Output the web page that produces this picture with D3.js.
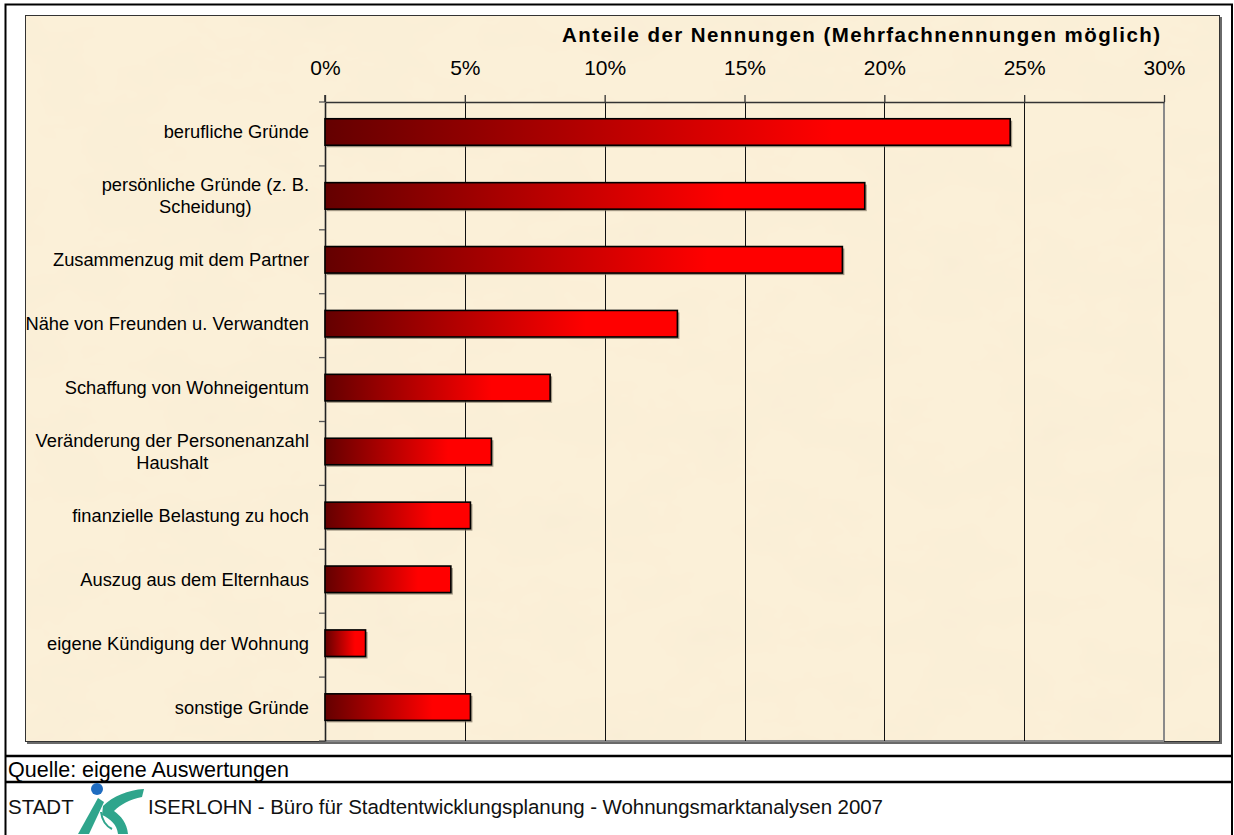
<!DOCTYPE html>
<html>
<head>
<meta charset="utf-8">
<script src="https://cdn.jsdelivr.net/npm/d3@7"></script>
<style>
  html, body { margin: 0; padding: 0; background: #fff; }
  svg { display: block; font-family: "Liberation Sans", Arial, sans-serif; }
</style>
</head>
<body>
<svg id="chart" width="1234" height="835"></svg>
<script>
// ---------- data ----------
const categories = [
  "berufliche Gründe",
  "persönliche Gründe (z. B.|Scheidung)",
  "Zusammenzug mit dem Partner",
  "Nähe von Freunden u. Verwandten",
  "Schaffung von Wohneigentum",
  "Veränderung der Personenanzahl|Haushalt",
  "finanzielle Belastung zu hoch",
  "Auszug aus dem Elternhaus",
  "eigene Kündigung der Wohnung",
  "sonstige Gründe"
];
const values = [24.5, 19.3, 18.5, 12.6, 8.05, 5.95, 5.2, 4.5, 1.45, 5.2];
const tickValues = [0, 5, 10, 15, 20, 25, 30];
const tickLabels = ["0%", "5%", "10%", "15%", "20%", "25%", "30%"];
const axisTitle = "Anteile der Nennungen (Mehrfachnennungen möglich)";
const sourceText = "Quelle: eigene Auswertungen";
const footerLeft = "STADT";
const footerRight = "ISERLOHN - Büro für Stadtentwicklungsplanung - Wohnungsmarktanalysen 2007";

// ---------- layout ----------
const svg = d3.select("#chart");
const plot = { left: 325, right: 1164, top: 102, bottom: 741 };

const defs = svg.append("defs");
const grad = defs.append("linearGradient").attr("id", "barGrad")
  .attr("x1", "0").attr("x2", "1").attr("y1", "0").attr("y2", "0");
grad.append("stop").attr("offset", "0").attr("stop-color", "#640000");
grad.append("stop").attr("offset", "0.74").attr("stop-color", "#ff0000");
grad.append("stop").attr("offset", "1").attr("stop-color", "#ff0000");

const filt = defs.append("filter").attr("id", "paper")
  .attr("x", 0).attr("y", 0).attr("width", "100%").attr("height", "100%");
filt.append("feTurbulence").attr("type", "fractalNoise")
  .attr("baseFrequency", "0.012 0.02").attr("numOctaves", 4).attr("seed", 7).attr("result", "noise");
filt.append("feColorMatrix").attr("in", "noise").attr("type", "matrix")
  .attr("values", "0 0 0 0 0.93  0 0 0 0 0.84  0 0 0 0 0.66  0 0 0 -0.9 0.55")
  .attr("result", "tint");
filt.append("feComposite").attr("in", "tint").attr("in2", "SourceGraphic").attr("operator", "atop");

// outer frame
svg.append("rect").attr("x", 5.5).attr("y", 4.5).attr("width", 1226.5).attr("height", 840)
  .attr("fill", "#fff").attr("stroke", "#000").attr("stroke-width", 2);

// chart area (parchment)
svg.append("rect").attr("x", 27).attr("y", 17).attr("width", 1195).attr("height", 727)
  .attr("fill", "#6a6a6a");
svg.append("rect").attr("x", 25.5).attr("y", 15.5).attr("width", 1194).attr("height", 726)
  .attr("fill", "#fbf0d8").attr("stroke", "#333").attr("stroke-width", 1);
svg.append("rect").attr("x", 26).attr("y", 16).attr("width", 1193).attr("height", 725)
  .attr("fill", "#fbf0d8").attr("filter", "url(#paper)");

// scales
const x = d3.scaleLinear().domain([0, 30]).range([plot.left, plot.right]);
const y = d3.scaleBand().domain(categories).range([plot.top, plot.bottom]).padding(0);
const barOff = y.bandwidth() * 0.262;
const barH = y.bandwidth() * 0.415;

// plot border (right & bottom, grey)
svg.append("line").attr("x1", x(30)).attr("x2", x(30)).attr("y1", plot.top).attr("y2", plot.bottom)
  .attr("stroke", "#8a8a8a").attr("stroke-width", 2);
svg.append("line").attr("x1", plot.left).attr("x2", x(30)).attr("y1", plot.bottom).attr("y2", plot.bottom)
  .attr("stroke", "#8a8a8a").attr("stroke-width", 2);

// gridlines
svg.append("g").selectAll("line").data(tickValues.slice(1, -1)).join("line")
  .attr("x1", d => Math.round(x(d)) + 0.5).attr("x2", d => Math.round(x(d)) + 0.5)
  .attr("y1", plot.top).attr("y2", plot.bottom)
  .attr("stroke", "#111").attr("stroke-width", 1);

// top axis
const xAxis = d3.axisTop(x).tickValues(tickValues)
  .tickFormat((d, i) => tickLabels[i]).tickSize(7).tickSizeOuter(0).tickPadding(20);
const gx = svg.append("g").attr("transform", `translate(0,${plot.top})`).call(xAxis);
gx.select(".domain").attr("stroke", "#333").attr("stroke-width", 1.6);
gx.selectAll(".tick line").attr("stroke", "#333").attr("stroke-width", 1.3);
gx.selectAll(".tick text").attr("font-size", 21).attr("fill", "#000")
  .attr("font-family", '"Liberation Sans", Arial, sans-serif');

// left axis
const yAxis = d3.axisLeft(y).tickValues([]).tickSizeOuter(0);
const gy = svg.append("g").attr("transform", `translate(${plot.left},0)`).call(yAxis);
gy.select(".domain").attr("stroke", "#222").attr("stroke-width", 1.6);
const boundaries = categories.map(c => y(c)).concat([plot.bottom]);
svg.append("g").selectAll("line").data(boundaries).join("line")
  .attr("x1", plot.left - 6).attr("x2", plot.left)
  .attr("y1", d => d).attr("y2", d => d)
  .attr("stroke", "#555").attr("stroke-width", 1.3);
svg.append("line").attr("x1", plot.left).attr("x2", plot.left)
  .attr("y1", plot.top - 7).attr("y2", plot.top).attr("stroke", "#333").attr("stroke-width", 1.6);

// bars (shadow + bar)
svg.append("g").selectAll("rect").data(values).join("rect")
  .attr("x", x(0) + 2).attr("y", (d, i) => y(categories[i]) + barOff + 2)
  .attr("width", d => x(d) - x(0)).attr("height", barH)
  .attr("fill", "#7a7060").attr("opacity", 0.7);
svg.append("g").selectAll("rect").data(values).join("rect")
  .attr("x", x(0)).attr("y", (d, i) => y(categories[i]) + barOff)
  .attr("width", d => x(d) - x(0)).attr("height", barH)
  .attr("fill", "url(#barGrad)").attr("stroke", "#000").attr("stroke-width", 1.6);

// category labels
const labelRight = 309;
const lg = svg.append("g").attr("font-size", 18.3).attr("fill", "#000");
categories.forEach((c, i) => {
  const lines = c.split("|");
  const cy = y(c) + barOff + barH / 2;
  const lh = 22;
  const t = lg.append("text").attr("text-anchor", "middle");
  lines.forEach((ln, j) => {
    t.append("tspan").attr("x", 0)
      .attr("y", cy + (j - (lines.length - 1) / 2) * lh + 6.4).text(ln);
  });
  const w = t.node().getBBox().width;
  t.selectAll("tspan").attr("x", labelRight - w / 2);
});

// axis title
svg.append("text").attr("x", 562).attr("y", 42).attr("font-size", 20.5).attr("font-weight", "bold")
  .attr("textLength", 598).attr("lengthAdjust", "spacing").text(axisTitle);

// footer separators
svg.append("line").attr("x1", 5).attr("x2", 1233).attr("y1", 756).attr("y2", 756)
  .attr("stroke", "#000").attr("stroke-width", 2.5);
svg.append("line").attr("x1", 5).attr("x2", 1233).attr("y1", 782).attr("y2", 782)
  .attr("stroke", "#000").attr("stroke-width", 2.5);

svg.append("text").attr("x", 8).attr("y", 777).attr("font-size", 21.5).text(sourceText);
svg.append("text").attr("x", 8).attr("y", 814).attr("font-size", 20.5).attr("fill", "#111").text(footerLeft);
svg.append("text").attr("x", 148).attr("y", 814).attr("font-size", 20.5).attr("fill", "#111")
  .attr("textLength", 735).attr("lengthAdjust", "spacing").text(footerRight);

// logo
const logo = svg.append("g");
logo.append("path").attr("fill", "#2fa58c")
  .attr("d", "M78,834 L89,834 L104,802 L98,798 Z");
logo.append("path").attr("fill", "#2fa58c")
  .attr("d", "M103,806 C113,796 128,790 144,789 L142,797 C130,799 120,805 114,811 C121,816 127,823 128,834 L118,834 C117,825 111,819 102,815 Z");
logo.append("path").attr("fill", "none").attr("stroke", "#2fa58c").attr("stroke-width", 2)
  .attr("d", "M101,812 C102,820 106,826 112,829");
logo.append("circle").attr("cx", 97).attr("cy", 789).attr("r", 6).attr("fill", "#1f6cc0");
</script>
</body>
</html>
